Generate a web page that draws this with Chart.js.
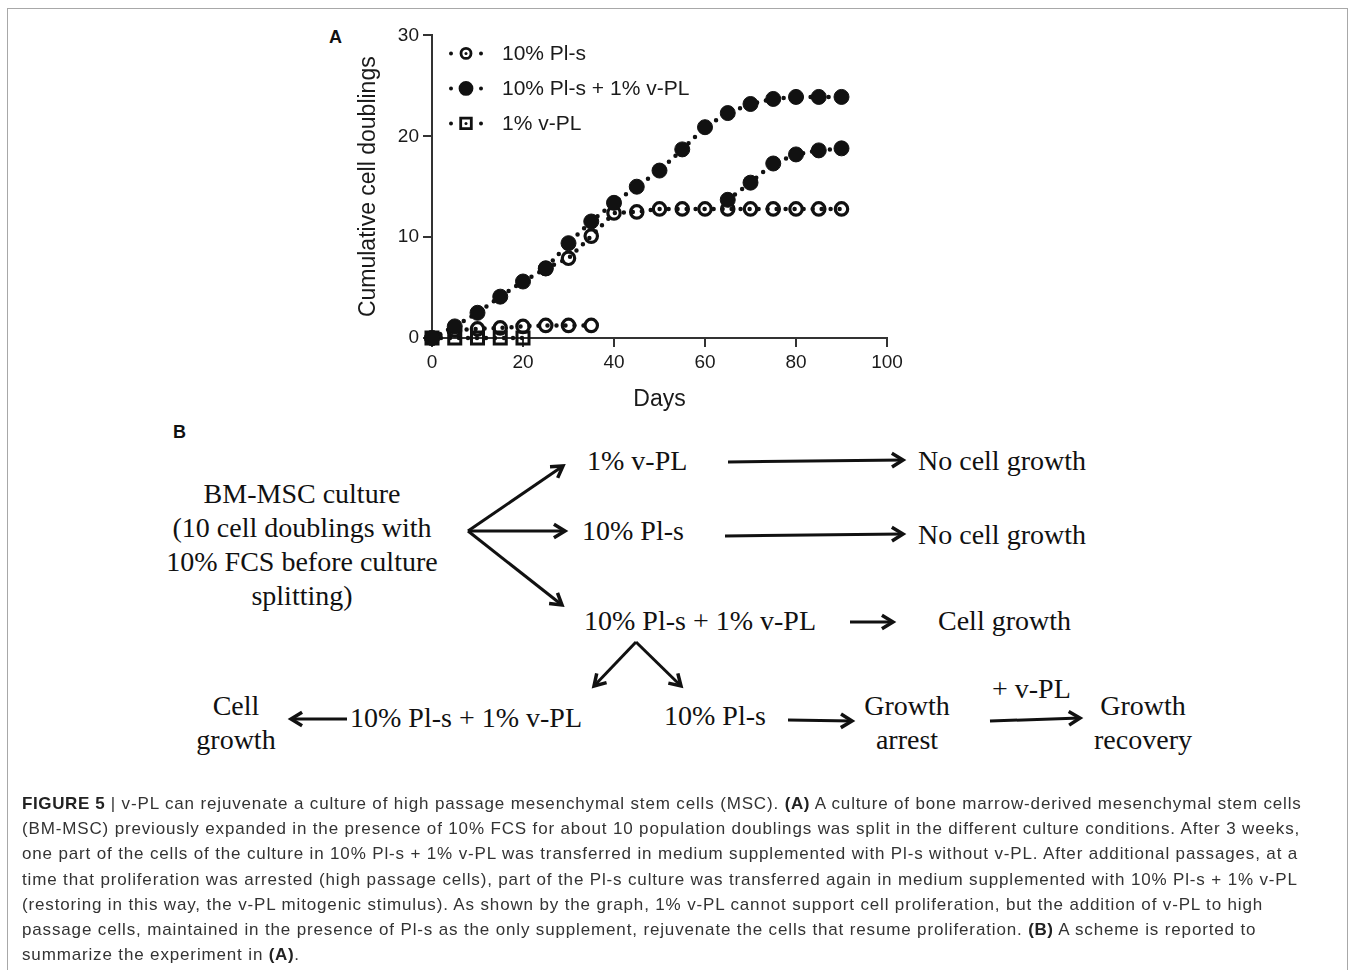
<!DOCTYPE html>
<html>
<head>
<meta charset="utf-8">
<script src="https://cdn.jsdelivr.net/npm/chart.js@4.4.1/dist/chart.umd.min.js"></script>
<style>
  body { margin: 0; background: #fff; width: 1357px; height: 970px; overflow: hidden; position: relative; }
  .frame { position: absolute; left: 7px; top: 8px; width: 1339px; height: 1000px; border: 1.5px solid #a8a8a8; }
  .panel { position: absolute; font-family: "Liberation Sans", Arial, sans-serif; font-weight: bold; font-size: 18px; color: #111; }
  #chartBox { position: absolute; left: 330px; top: 20px; width: 580px; height: 400px; }
  .s { position: absolute; font-family: "Liberation Serif", "Times New Roman", serif; font-size: 28px; line-height: 34px; color: #111; white-space: nowrap; }
  .c { text-align: center; }
  #arrows { position: absolute; left: 0; top: 0; }
  .caption { position: absolute; left: 22px; top: 791px; font-family: "Liberation Sans", Arial, sans-serif; font-size: 17px; letter-spacing: 0.85px; line-height: 25.2px; color: #333; white-space: nowrap; }
  .caption b { color: #222; letter-spacing: 0.6px; }
</style>
</head>
<body>
<div class="frame"></div>
<div class="panel" style="left:329px;top:27px;">A</div>
<div id="chartBox"><canvas id="growthChart" width="580" height="400"></canvas></div>

<div class="panel" style="left:173px;top:422px;">B</div>

<!-- scheme B -->
<div class="s c" style="left:152px;width:300px;top:477px;">BM-MSC culture<br>(10 cell doublings with<br>10% FCS before culture<br>splitting)</div>
<div class="s" style="left:587px;top:444px;">1% v-PL</div>
<div class="s" style="left:582px;top:514px;">10% Pl-s</div>
<div class="s" style="left:584px;top:604px;">10% Pl-s + 1% v-PL</div>
<div class="s" style="left:918px;top:444px;">No cell growth</div>
<div class="s" style="left:918px;top:518px;">No cell growth</div>
<div class="s" style="left:938px;top:604px;">Cell growth</div>
<div class="s c" style="left:186px;width:100px;top:689px;">Cell<br>growth</div>
<div class="s" style="left:350px;top:701px;">10% Pl-s + 1% v-PL</div>
<div class="s" style="left:664px;top:699px;">10% Pl-s</div>
<div class="s c" style="left:857px;width:100px;top:689px;">Growth<br>arrest</div>
<div class="s" style="left:992px;top:672px;">+ v-PL</div>
<div class="s c" style="left:1083px;width:120px;top:689px;">Growth<br>recovery</div>

<svg id="arrows" width="1357" height="970"></svg>

<div class="caption">
<b>FIGURE 5</b> | v-PL can rejuvenate a culture of high passage mesenchymal stem cells (MSC). <b>(A)</b> A culture of bone marrow-derived mesenchymal stem cells<br>
(BM-MSC) previously expanded in the presence of 10% FCS for about 10 population doublings was split in the different culture conditions. After 3 weeks,<br>
one part of the cells of the culture in 10% Pl-s + 1% v-PL was transferred in medium supplemented with Pl-s without v-PL. After additional passages, at a<br>
time that proliferation was arrested (high passage cells), part of the Pl-s culture was transferred again in medium supplemented with 10% Pl-s + 1% v-PL<br>
(restoring in this way, the v-PL mitogenic stimulus). As shown by the graph, 1% v-PL cannot support cell proliferation, but the addition of v-PL to high<br>
passage cells, maintained in the presence of Pl-s as the only supplement, rejuvenate the cells that resume proliferation. <b>(B)</b> A scheme is reported to<br>
summarize the experiment in <b>(A)</b>.
</div>

<script>
// data (days vs cumulative cell doublings)
const plsEarlyDays = [0, 5, 10, 15, 20, 25, 30, 35];
const plsEarly = [0, 0.8, 0.9, 1.0, 1.15, 1.25, 1.25, 1.25];

const plsLateDays = [25, 30, 35, 40, 45, 50, 55, 60, 65, 70, 75, 80, 85, 90];
const plsLate = [6.9, 7.9, 10.1, 12.4, 12.5, 12.8, 12.8, 12.8, 12.8, 12.8, 12.8, 12.8, 12.8, 12.8];

const comboDays = [0, 5, 10, 15, 20, 25, 30, 35, 40, 45, 50, 55, 60, 65, 70, 75, 80, 85, 90];
const combo = [0, 1.15, 2.5, 4.1, 5.6, 6.9, 9.4, 11.55, 13.4, 15.0, 16.6, 18.7, 20.9, 22.3, 23.2, 23.7, 23.9, 23.9, 23.9];

const comboRecDays = [65, 70, 75, 80, 85, 90];
const comboRec = [13.7, 15.4, 17.3, 18.2, 18.6, 18.8];

const vplDays = [0, 5, 10, 15, 20];
const vpl = [0, 0, 0, 0, 0];

const xTicks = [0, 20, 40, 60, 80, 100];
const yTicks = [0, 10, 20, 30];

const legendLabels = ['10% Pl-s', '10% Pl-s + 1% v-PL', '1% v-PL'];

function pts(xs, ys) {
  return xs.map((x, i) => ({ x: x, y: ys[i] }));
}

const ink = '#111';
const dotted = { borderColor: ink, borderWidth: 4.5, borderDash: [0, 9], borderCapStyle: 'round', showLine: true, clip: false, pointBorderColor: ink };

function openCircle(label, data, inLegend) {
  return Object.assign({}, dotted, { label: label, data: data, inLegend: inLegend,
    pointStyle: 'circle', pointRadius: 6.2, pointBorderWidth: 3.2, pointBackgroundColor: 'rgba(0,0,0,0)' });
}
function filledCircle(label, data, inLegend) {
  return Object.assign({}, dotted, { label: label, data: data, inLegend: inLegend,
    pointStyle: 'circle', pointRadius: 7.5, pointBorderWidth: 1, pointBackgroundColor: ink });
}
function openSquare(label, data, inLegend) {
  return Object.assign({}, dotted, { label: label, data: data, inLegend: inLegend,
    pointStyle: 'rect', pointRadius: 8.5, pointBorderWidth: 3, pointBackgroundColor: 'rgba(0,0,0,0)' });
}

// legend drawn like the original: small dot, marker, small dot, text
const dotLegend = {
  id: 'dotLegend',
  afterDraw(chart) {
    const ctx = chart.ctx;
    const a = chart.chartArea;
    const entries = chart.data.datasets.filter(d => d.inLegend);
    ctx.save();
    entries.forEach((d, i) => {
      const y = a.top + 18 + i * 35;
      const mx = a.left + 34;
      ctx.fillStyle = ink;
      [mx - 15, mx + 15].forEach(dx => {
        ctx.beginPath();
        ctx.arc(dx, y, 2, 0, Math.PI * 2);
        ctx.fill();
      });
      ctx.strokeStyle = ink;
      ctx.fillStyle = d.pointBackgroundColor;
      ctx.lineWidth = 2.8;
      const r = d.pointStyle === 'rect' ? 7.5 : (d.pointBorderWidth > 2 ? 5 : 6);
      Chart.helpers.drawPoint(ctx, { pointStyle: d.pointStyle, radius: r, borderWidth: 2.8, rotation: 0 }, mx, y);
      // inner dot like the line passing through
      if (d.pointBorderWidth > 2) {
        ctx.fillStyle = ink;
        ctx.beginPath();
        ctx.arc(mx, y, 1.5, 0, Math.PI * 2);
        ctx.fill();
      }
      ctx.fillStyle = '#1a1a1a';
      ctx.font = '21px "Liberation Sans", Arial, sans-serif';
      ctx.textBaseline = 'middle';
      ctx.fillText(d.label, a.left + 70, y + 1);
    });
    ctx.restore();
  }
};

const ctx = document.getElementById('growthChart').getContext('2d');
const growthChart = new Chart(ctx, {
  type: 'scatter',
  data: {
    datasets: [
      filledCircle(legendLabels[1], pts(comboDays, combo), false),
      filledCircle(legendLabels[1], pts(comboRecDays, comboRec), false),
      openCircle(legendLabels[0], pts(plsLateDays, plsLate), false),
      openCircle(legendLabels[0], pts(plsEarlyDays, plsEarly), true),
      filledCircle(legendLabels[1], [], true),
      openSquare(legendLabels[2], pts(vplDays, vpl), true)
    ]
  },
  options: {
    responsive: false,
    devicePixelRatio: 1,
    animation: false,
    layout: { padding: { top: 13, right: 23, left: 0, bottom: 0 } },
    plugins: { legend: { display: false }, tooltip: { enabled: false } },
    scales: {
      x: {
        type: 'linear', min: 0, max: 100,
        afterBuildTicks: s => { s.ticks = xTicks.map(v => ({ value: v })); },
        afterFit: s => { s.height = 82; },
        grid: { drawOnChartArea: false, drawTicks: true, tickLength: 9, color: '#333', lineWidth: 2 },
        border: { display: true, color: '#333', width: 2 },
        ticks: { color: '#1a1a1a', padding: 4, font: { family: '"Liberation Sans", Arial, sans-serif', size: 19 } },
        title: { display: true, text: 'Days', color: '#1a1a1a', padding: { top: 0, bottom: 7 },
          font: { family: '"Liberation Sans", Arial, sans-serif', size: 23 } }
      },
      y: {
        type: 'linear', min: 0, max: 30,
        afterBuildTicks: s => { s.ticks = yTicks.map(v => ({ value: v })); },
        afterFit: s => { s.width = 102; },
        grid: { drawOnChartArea: false, drawTicks: true, tickLength: 9, color: '#333', lineWidth: 2 },
        border: { display: true, color: '#333', width: 2 },
        ticks: { color: '#1a1a1a', padding: 4, font: { family: '"Liberation Sans", Arial, sans-serif', size: 19 } },
        title: { display: true, text: 'Cumulative cell doublings', color: '#1a1a1a', padding: { top: 25, bottom: 0 },
          font: { family: '"Liberation Sans", Arial, sans-serif', size: 23 } }
      }
    }
  },
  plugins: [dotLegend]
});

// arrows of the scheme in panel B
const arrowList = [
  [468, 531, 563, 466], [468, 531, 565, 531], [468, 531, 562, 605],
  [728, 462, 903, 460], [725, 536, 903, 534], [850, 622, 893, 622],
  [636, 642, 594, 686], [636, 642, 681, 686],
  [347, 719, 291, 719], [788, 720, 852, 721], [990, 721, 1080, 718]
];
const svg = document.getElementById('arrows');
const NS = 'http://www.w3.org/2000/svg';
arrowList.forEach(([x1, y1, x2, y2]) => {
  const line = document.createElementNS(NS, 'line');
  line.setAttribute('x1', x1); line.setAttribute('y1', y1);
  line.setAttribute('x2', x2); line.setAttribute('y2', y2);
  line.setAttribute('stroke', '#111'); line.setAttribute('stroke-width', 3);
  svg.appendChild(line);
  const ang = Math.atan2(y2 - y1, x2 - x1);
  const len = 13, spread = 0.55;
  const p1 = [x2 - len * Math.cos(ang - spread), y2 - len * Math.sin(ang - spread)];
  const p2 = [x2 - len * Math.cos(ang + spread), y2 - len * Math.sin(ang + spread)];
  const head = document.createElementNS(NS, 'polyline');
  head.setAttribute('points', p1.join(',') + ' ' + x2 + ',' + y2 + ' ' + p2.join(','));
  head.setAttribute('fill', 'none'); head.setAttribute('stroke', '#111');
  head.setAttribute('stroke-width', 3.5); head.setAttribute('stroke-linejoin', 'miter');
  svg.appendChild(head);
});
</script>
</body>
</html>
